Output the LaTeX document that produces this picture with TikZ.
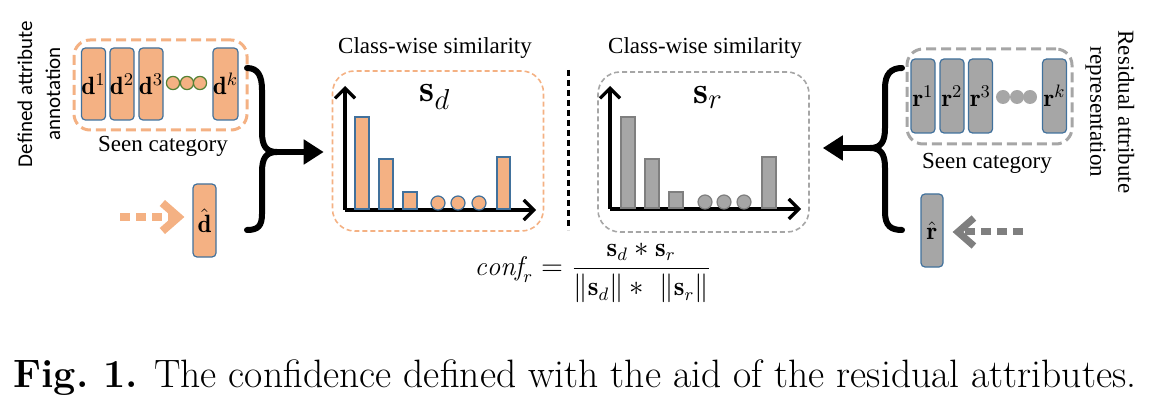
\documentclass[tikz,border=0pt]{standalone}
\usepackage{amsmath, amssymb}
\usepackage{fontspec}
\usepackage{tikz}
\usetikzlibrary{arrows.meta, positioning}

\newfontfamily\cambfont{Liberation Serif}
\newfontfamily\calfont{Carlito}

\definecolor{attrorange}{HTML}{F4B183}
\definecolor{attrblue}{HTML}{41719C}
\definecolor{attrgrey}{HTML}{A6A6A6}
\definecolor{edgegrey}{HTML}{7F7F7F}
\definecolor{dotgreen}{HTML}{548235}

\tikzset{
  attrbar/.style={draw=attrblue, line width=0.6pt, rounded corners=2pt,
    minimum width=12pt, minimum height=36pt, inner sep=0pt,
    font=\fontsize{12.5}{14}\selectfont},
  obar/.style={attrbar, fill=attrorange},
  gbar/.style={attrbar, fill=attrgrey},
  groupbox/.style={draw, line width=1.5pt, dash pattern=on 5pt off 2.5pt,
    rounded corners=8pt, inner sep=0pt},
  chartbox/.style={draw, line width=0.8pt, dash pattern=on 2.5pt off 1.5pt,
    rounded corners=11pt, minimum width=105.5pt, minimum height=80pt, inner sep=0pt},
  axis/.style={line width=1.8pt, -{Straight Barb[length=5pt, width=10pt, line width=1.6pt]}},
  brace/.style={line width=3pt, line cap=round},
  bigarrow/.style={line width=3pt, -{Triangle[length=10pt, width=12pt]}},
  dotarrow/.style={dash pattern=on 5pt off 3pt, -{Straight Barb[length=8pt, width=14pt]}},
  lbl/.style={font=\cambfont\fontsize{11}{13}\selectfont, inner sep=0pt}
}

\begin{document}
\begin{tikzpicture}[x=0.5pt, y=-0.5pt]
    \useasboundingbox (0,0) rectangle (1150,406);

    % Defined attributes of the seen categories
    \node[groupbox, draw=attrorange, minimum width=86.5pt, minimum height=45pt] (seenD) at (160.5,85) {};
    \node[obar] (d1) at (93.5,84) {$\mathbf{d}^1$};
    \node[obar] (d2) at (122,84) {$\mathbf{d}^2$};
    \node[obar] (d3) at (151,84) {$\mathbf{d}^3$};
    \node[obar] (dk) at (225.5,84) {$\mathbf{d}^k$};
    \foreach \cx in {173,187,200}
        \draw[fill=attrorange, draw=dotgreen, line width=0.6pt] (\cx,83) circle[radius=3.3pt];
    \node[lbl, font=\cambfont\fontsize{11.5}{13}\selectfont] (seenDlbl) at (163,146) {Seen category};
    \node[rotate=90, align=center, inner sep=0pt, font=\calfont\fontsize{10.5}{14}\selectfont] (defD) at (39,94) {Defined attribute\\annotation};

    % Query attribute
    \node[obar, minimum width=11.5pt, minimum height=36.5pt] (dhat) at (204.5,220.5) {$\hat{\mathbf{d}}$};
    \coordinate (dsrc) at (120,217);
    \draw[dotarrow, attrorange, line width=4pt, shorten >=4pt] (dsrc) -- (dsrc -| dhat.west);

    % Left brace
    \coordinate (braceL) at (277,152);
    \draw[brace] (247,68) .. controls (258,68) and (262,76) .. (262,90) -- (262,132)
        .. controls (262,146) and (266,152) .. (braceL)
        .. controls (266,152) and (262,158) .. (262,172) -- (262,214)
        .. controls (262,226) and (258,230) .. (247,230);

    % Class-wise similarity s_d
    \node[chartbox, draw=attrorange] (simd) at (438,151) {};
    \node[lbl, font=\cambfont\fontsize{11.5}{13}\selectfont] (simdttl) at (435,48) {Class-wise similarity};
    \node[inner sep=0pt, font=\fontsize{19}{22}\selectfont] (sd) at (435,97) {$\mathbf{s}_d$};
    \draw[axis] (345,210) -- (345,86);
    \draw[axis] (345,210) -- (536,210);
    \foreach \xa/\xb/\ytop in {355/369/117, 379/393/159, 403/417/192, 497/510/157}
        \draw[fill=attrorange, draw=attrblue, line width=0.6pt] (\xa,209) rectangle (\xb,\ytop);
    \foreach \cx in {438,458,479}
        \draw[fill=attrorange, draw=attrblue, line width=0.6pt] (\cx,203) circle[radius=3.5pt];
    \draw[bigarrow, shorten >=4pt] (braceL) -- (braceL -| simd.west);

    % Separator
    \draw[line width=1.5pt, dash pattern=on 3pt off 2pt] (568,70) -- (568,230);

    % Class-wise similarity s_r
    \node[chartbox, draw=attrgrey] (simr) at (703.5,152) {};
    \node[lbl, font=\cambfont\fontsize{11.5}{13}\selectfont] (simrttl) at (705,48) {Class-wise similarity};
    \node[inner sep=0pt, font=\fontsize{19}{22}\selectfont] (sr) at (708,97) {$\mathbf{s}_r$};
    \draw[axis] (610,209) -- (610,86);
    \draw[axis] (610,209) -- (801,209);
    \foreach \xa/\xb/\ytop in {621/635/117, 645/659/159, 669/683/192, 762/776/157}
        \draw[fill=attrgrey, draw=edgegrey, line width=0.6pt] (\xa,208) rectangle (\xb,\ytop);
    \foreach \cx in {705,724,744}
        \draw[fill=attrgrey, draw=edgegrey, line width=0.6pt] (\cx,202) circle[radius=3.5pt];

    % Residual attributes of the seen categories
    \node[groupbox, draw=attrgrey, minimum width=82.5pt, minimum height=47.5pt] (seenR) at (989.5,96.5) {};
    \node[gbar, minimum height=37pt] (r1) at (923,96) {$\mathbf{r}^1$};
    \node[gbar, minimum height=37pt] (r2) at (952,96) {$\mathbf{r}^2$};
    \node[gbar, minimum height=37pt] (r3) at (980.5,96) {$\mathbf{r}^3$};
    \node[gbar, minimum height=37pt] (rk) at (1054.5,96) {$\mathbf{r}^k$};
    \foreach \cx in {1003,1017,1030}
        \fill[attrgrey] (\cx,97) circle[radius=3.5pt];
    \node[lbl, font=\cambfont\fontsize{11.5}{13}\selectfont] (seenRlbl) at (987,163) {Seen category};
    \node[rotate=-90, align=center, inner sep=0pt, font=\cambfont\fontsize{11.5}{14}\selectfont] (resR) at (1110,112) {Residual attribute\\representation};

    % Query residual attribute
    \node[gbar, minimum width=11pt, minimum height=36.5pt] (rhat) at (932,230.5) {$\hat{\mathbf{r}}$};
    \coordinate (rsrc) at (1023,232);
    \draw[dotarrow, edgegrey, line width=3.5pt, shorten >=4.5pt] (rsrc) -- (rsrc -| rhat.east);

    % Right brace
    \coordinate (braceR) at (870,148);
    \draw[brace] (902,68) .. controls (891,68) and (885,74) .. (885,88) -- (885,128)
        .. controls (885,142) and (881,148) .. (braceR)
        .. controls (881,148) and (885,154) .. (885,168) -- (885,212)
        .. controls (885,226) and (891,230) .. (902,230);
    \draw[bigarrow, shorten >=6.5pt] (braceR) -- (braceR -| simr.east);

    % Confidence
    \node[inner sep=0pt, font=\fontsize{13.5}{16}\selectfont] (conf) at (593,273)
        {$\mathit{conf}_r = \dfrac{\mathbf{s}_d * \mathbf{s}_r}{\|\mathbf{s}_d\| * \ \|\mathbf{s}_r\|}$};

    % Caption
    \node[inner sep=0pt, font=\fontsize{19.8}{22}\selectfont] (caption) at (575,378)
        {\textbf{Fig.\ 1.} The confidence defined with the aid of the residual attributes.};

\end{tikzpicture}
\end{document}
